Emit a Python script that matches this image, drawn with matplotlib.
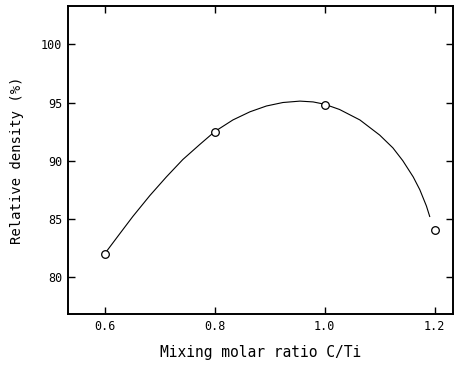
import matplotlib
matplotlib.use("Agg")
import matplotlib.pyplot as plt

# measured points
ratio = [0.6, 0.8, 1.0, 1.2]
density = [82.0, 92.5, 94.8, 84.0]

# hand-drawn smooth curve
curve_x = [0.600, 0.627, 0.651, 0.682, 0.712, 0.742, 0.773, 0.800, 0.833,
           0.864, 0.894, 0.924, 0.955, 0.979, 1.000, 1.027, 1.064, 1.100,
           1.124, 1.142, 1.161, 1.173, 1.185, 1.191]
curve_y = [82.0, 83.7, 85.2, 87.0, 88.6, 90.1, 91.4, 92.5, 93.5,
           94.2, 94.7, 95.0, 95.12, 95.05, 94.85, 94.4, 93.5, 92.2,
           91.1, 90.0, 88.6, 87.5, 86.1, 85.2]

xticks = [0.6, 0.8, 1.0, 1.2]
xticklabels = ["0.6", "0.8", "1.0", "1.2"]
yticks = [80, 85, 90, 95, 100]

plt.rcParams['font.family'] = ['DejaVu Sans Mono']

fig = plt.figure(figsize=(4.56, 3.74), dpi=100)
ax = fig.add_axes([0.149, 0.160, 0.844, 0.824])

ax.plot(curve_x, curve_y, color='black', lw=0.8)
ax.plot(ratio, density, 'o', ms=5.5, mfc='white', mec='black', mew=0.9)

ax.set_xlim(0.533, 1.233)
ax.set_ylim(76.8, 103.3)
ax.set_xticks(xticks)
ax.set_xticklabels(xticklabels)
ax.set_yticks(yticks)

ax.tick_params(direction='in', top=True, right=True, length=5, width=1,
               labelsize=8.5, pad=4)
for s in ax.spines.values():
    s.set_linewidth(1.4)

ax.set_xlabel("Mixing molar ratio C/Ti", fontsize=10.5, labelpad=9)
ax.set_ylabel("Relative density (%)", fontsize=10, labelpad=12)

fig.savefig("out.png", dpi=100)
